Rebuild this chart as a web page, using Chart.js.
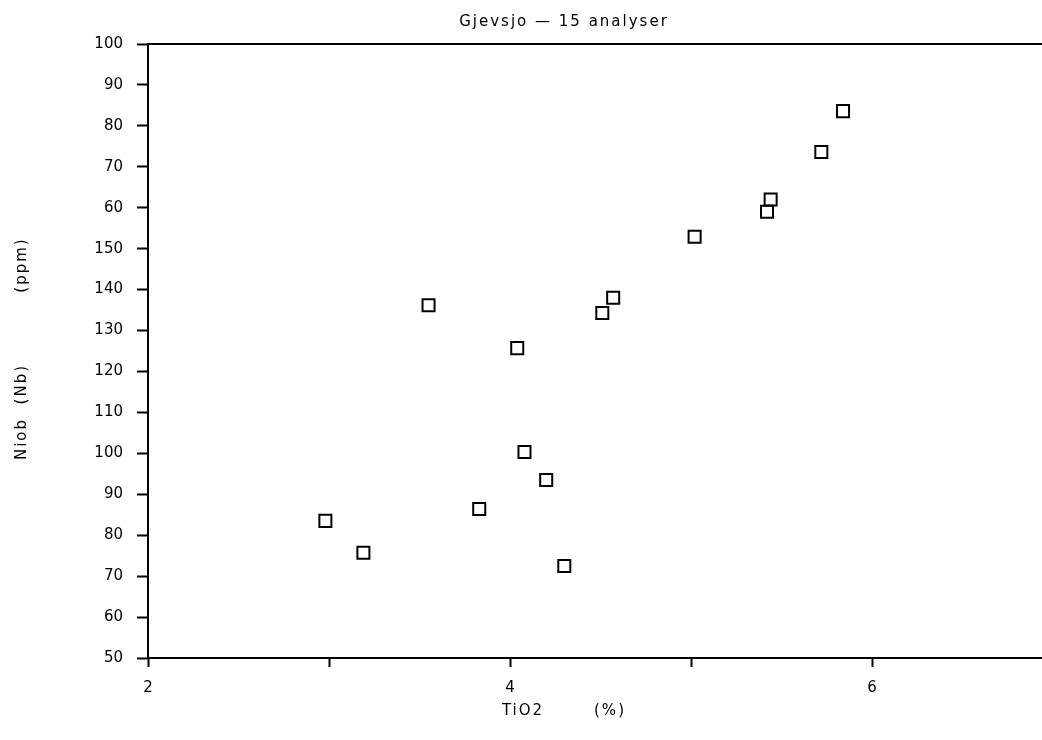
<!DOCTYPE html>
<html>
<head>
<meta charset="utf-8">
<script src="https://cdn.jsdelivr.net/npm/chart.js@4"></script>
<style>
  html, body { margin: 0; padding: 0; background: #fff; overflow: hidden; }
  #wrap { width: 1042px; height: 740px; overflow: hidden; }
  canvas { display: block; }
</style>
</head>
<body>
<div id="wrap"><canvas id="c" width="1065" height="740"></canvas></div>
<script>
// ---- data ----
const tio2 = [2.98, 3.19, 3.55, 3.83, 4.04, 4.08, 4.20, 4.30, 4.51, 4.57, 5.02, 5.42, 5.44, 5.72, 5.84];
const niob = [83.5, 75.7, 136.2, 86.4, 125.7, 100.3, 93.5, 72.5, 134.3, 138, 152.9, 159, 162, 173.6, 183.6];
const yTickValues = [50, 60, 70, 80, 90, 100, 110, 120, 130, 140, 150, 160, 170, 180, 190, 200];
const yTickLabels = ['50', '60', '70', '80', '90', '100', '110', '120', '130', '140', '150', '60', '70', '80', '90', '100'];
const xTickLabels = {2: '2', 4: '4', 6: '6'};
const titleText = 'Gjevsjo \u2014 15 analyser';
const xTitleParts = ['TiO2', '(%)'];
const yTitleParts = ['Niob  (Nb)', '(ppm)'];

const FONT = '"DejaVu Sans", sans-serif';

const textPlugin = {
  id: 'texts',
  afterDraw(chart) {
    const ctx = chart.ctx;
    ctx.save();
    ctx.fillStyle = '#000';
    ctx.font = '15px ' + FONT;
    ctx.letterSpacing = '2px';
    ctx.textBaseline = 'middle';
    ctx.textAlign = 'center';
    ctx.fillText(titleText, 564, 22);
    ctx.fillText(xTitleParts[0], 523, 711);
    ctx.fillText(xTitleParts[1], 610, 711);
    ctx.translate(22, 0);
    ctx.rotate(-Math.PI / 2);
    ctx.fillText(yTitleParts[0], -412, 0);
    ctx.fillText(yTitleParts[1], -265, 0);
    ctx.restore();
  }
};

new Chart(document.getElementById('c'), {
  type: 'scatter',
  data: {
    datasets: [{
      data: tio2.map((x, i) => ({x: x, y: niob[i]})),
      pointStyle: 'rect',
      pointRadius: 8.5,
      pointHoverRadius: 8.5,
      borderColor: '#000',
      backgroundColor: 'rgba(255,255,255,0)',
      borderWidth: 2
    }]
  },
  options: {
    responsive: false,
    animation: false,
    events: [],
    layout: { autoPadding: false, padding: { top: 44, right: 0, left: 0, bottom: 0 } },
    plugins: { legend: { display: false }, tooltip: { enabled: false }, title: { display: false } },
    scales: {
      x: {
        type: 'linear', position: 'bottom', min: 2, max: 7,
        afterFit(s) { s.height = 82; },
        afterBuildTicks(s) { s.ticks = [2, 3, 4, 5, 6, 7].map(v => ({value: v})); },
        border: { display: true, color: '#000', width: 2 },
        grid: { drawOnChartArea: false, drawTicks: true, tickLength: 9, tickColor: '#000', tickWidth: 2 },
        ticks: {
          color: '#000', font: { family: FONT, size: 15 }, padding: 12, maxRotation: 0, autoSkip: false,
          callback: v => xTickLabels[v] || ''
        }
      },
      xTop: {
        type: 'linear', position: 'top', min: 2, max: 7,
        afterFit(s) { s.height = 0; },
        border: { display: true, color: '#000', width: 2 },
        grid: { display: false, drawTicks: false },
        ticks: { display: false }
      },
      y: {
        type: 'linear', position: 'left', min: 50, max: 200,
        afterFit(s) { s.width = 148; },
        afterBuildTicks(s) { s.ticks = yTickValues.map(v => ({value: v})); },
        border: { display: true, color: '#000', width: 2 },
        grid: { drawOnChartArea: false, drawTicks: true, tickLength: 11, tickColor: '#000', tickWidth: 2 },
        ticks: {
          color: '#000', font: { family: FONT, size: 15 }, padding: 14, autoSkip: false,
          callback: v => yTickLabels[yTickValues.indexOf(v)]
        }
      }
    }
  },
  plugins: [textPlugin]
});
</script>
</body>
</html>
